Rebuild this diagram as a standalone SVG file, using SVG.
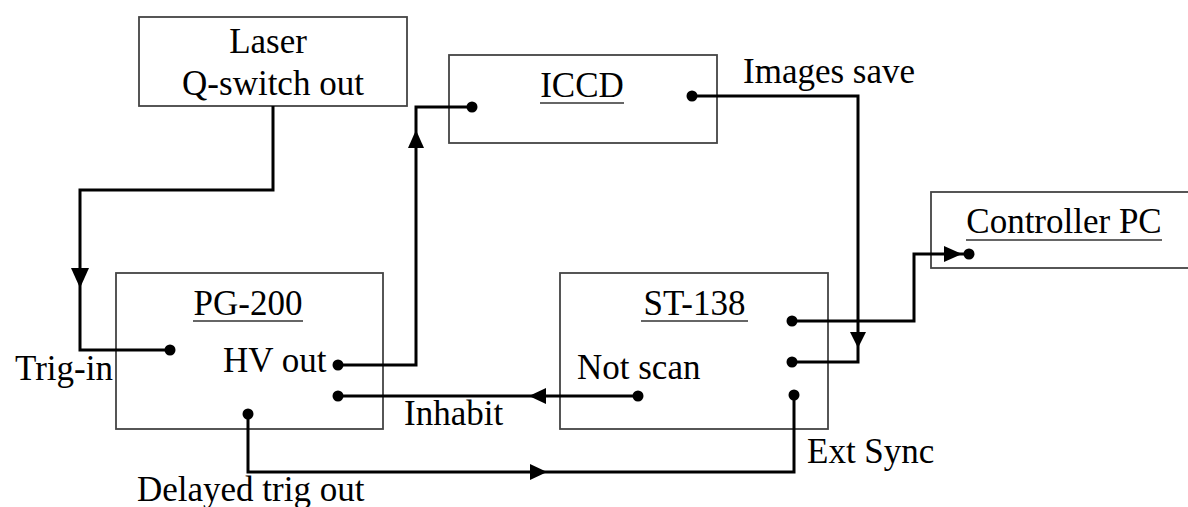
<svg xmlns="http://www.w3.org/2000/svg" width="1188" height="507" viewBox="0 0 1188 507">
<style>
.box{fill:#fff;stroke:#444;stroke-width:1.8}
.ul{stroke:#333;stroke-width:1.5}
.t{font-family:"Liberation Serif","Times New Roman",serif;font-size:35px;fill:#000}
.m{text-anchor:middle}
.w{fill:none;stroke:#000;stroke-width:3;stroke-linejoin:miter}
.dot{fill:#000}
.ah{fill:#000}
</style>
<rect width="1188" height="507" fill="#fff"/>
<g id="laser">
<rect class="box" x="139" y="17" width="268" height="89"/>
<text class="t m" x="268" y="53">Laser</text>
<text class="t m" x="273" y="95">Q-switch out</text>
</g>
<g id="iccd">
<rect class="box" x="449" y="55" width="268" height="88"/>
<text class="t m" x="582" y="97">ICCD</text>
<line class="ul" x1="540" y1="103" x2="624" y2="103"/>
</g>
<g id="pg200">
<rect class="box" x="116" y="273" width="267" height="156"/>
<text class="t m" x="248" y="315">PG-200</text>
<line class="ul" x1="193" y1="321" x2="303" y2="321"/>
<text class="t" x="223" y="372">HV out</text>
</g>
<g id="st138">
<rect class="box" x="560" y="273" width="268" height="156"/>
<text class="t m" x="694.5" y="315">ST-138</text>
<line class="ul" x1="641" y1="321" x2="748" y2="321"/>
<text class="t" x="577" y="379">Not scan</text>
</g>
<g id="controller">
<rect class="box" x="931" y="192" width="270" height="76"/>
<text class="t m" x="1064" y="233">Controller PC</text>
<line class="ul" x1="966" y1="240" x2="1162" y2="240"/>
</g>
<g id="connectors">
<polyline class="w" points="273,106 273,190 80,190 80,350 170,350"/>
<polygon class="ah" points="71,268 89,268 80,288"/>
<circle class="dot" cx="170" cy="350" r="5.5"/>
<polyline class="w" points="338,365 416,365 416,107 472,107"/>
<polygon class="ah" points="408,148 424,148 416,130"/>
<circle class="dot" cx="338" cy="365" r="5.5"/>
<circle class="dot" cx="472" cy="107" r="5.5"/>
<polyline class="w" points="692,96 858,96 858,362 792,362"/>
<polygon class="ah" points="850,332 866,332 858,348"/>
<circle class="dot" cx="692" cy="96" r="5.5"/>
<circle class="dot" cx="792" cy="362" r="5.5"/>
<polyline class="w" points="792,321 914,321 914,254 969,254"/>
<polygon class="ah" points="944,246 944,262 962,254"/>
<circle class="dot" cx="792" cy="321" r="5.5"/>
<circle class="dot" cx="969" cy="254" r="5.5"/>
<polyline class="w" points="638,396 338,396"/>
<polygon class="ah" points="546,388 546,404 529,396"/>
<circle class="dot" cx="638" cy="396" r="5.5"/>
<circle class="dot" cx="338" cy="396" r="5.5"/>
<polyline class="w" points="248,414 248,472 794,472 794,395"/>
<polygon class="ah" points="530,464 530,480 547,472"/>
<circle class="dot" cx="248" cy="414" r="5.5"/>
<circle class="dot" cx="794" cy="395" r="5.5"/>
</g>
<g id="labels">
<text class="t" x="743" y="83">Images save</text>
<text class="t" x="15" y="380">Trig-in</text>
<text class="t" x="404" y="425">Inhabit</text>
<text class="t" x="807" y="463">Ext Sync</text>
<text class="t" x="137" y="501">Delayed trig out</text>
</g>
</svg>
